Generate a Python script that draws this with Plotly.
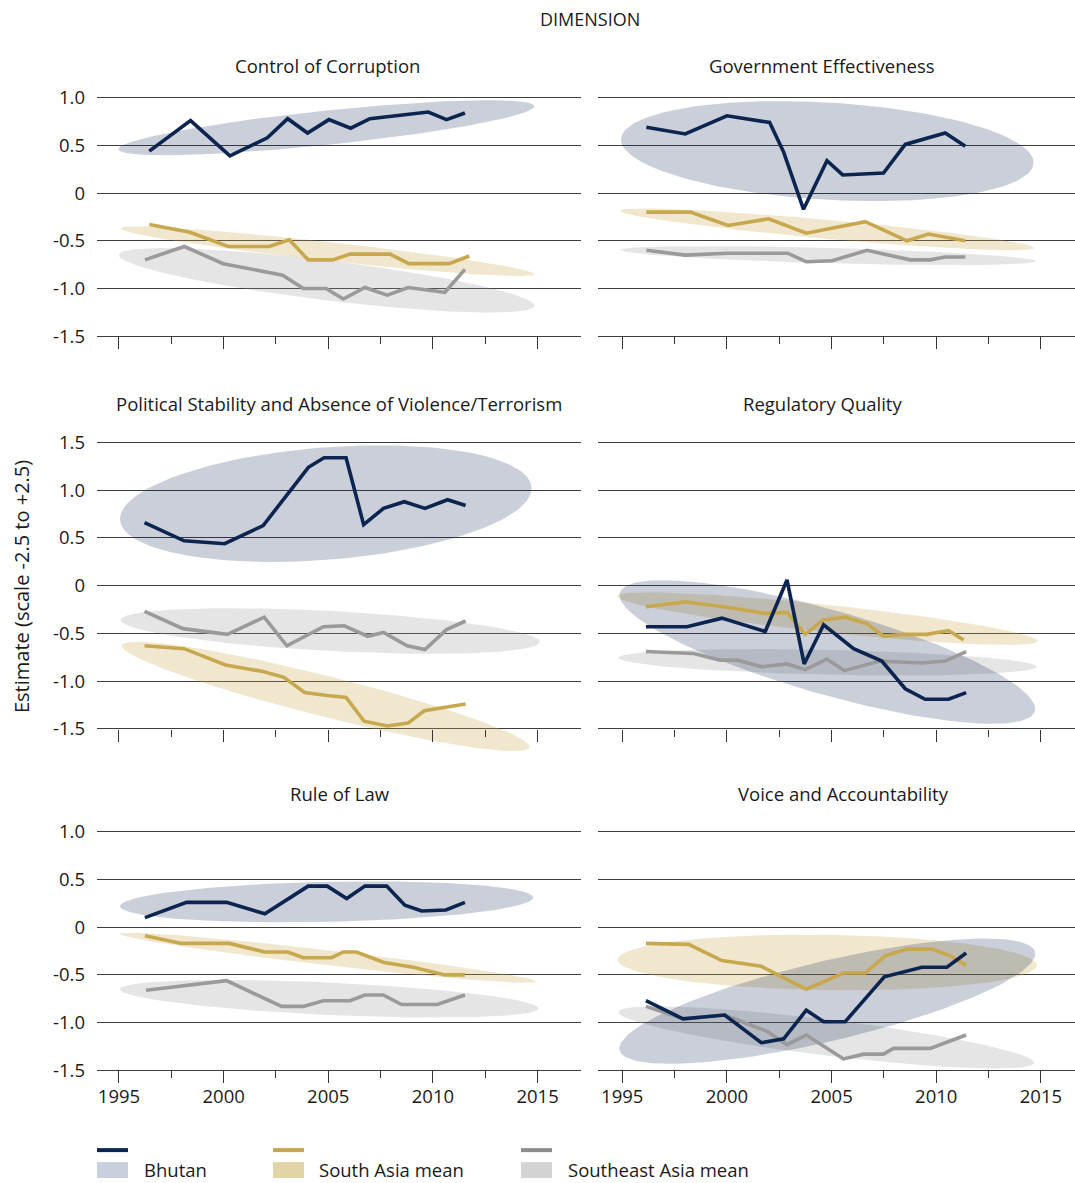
import numpy as np
import plotly.graph_objects as go

# ---------------- data ----------------
# Control of Corruption
CC_BHU_X = [1996.45, 1998.42, 2000.3, 2002.09, 2003.06, 2004.01, 2005.03, 2006.07, 2006.99, 2009.78, 2010.65, 2011.53]
CC_BHU_Y = [0.44, 0.76, 0.39, 0.58, 0.78, 0.63, 0.77, 0.68, 0.78, 0.85, 0.77, 0.84]
CC_SAM_X = [1996.45, 1998.39, 2000.22, 2002.18, 2003.14, 2004.04, 2005.21, 2006.04, 2007.95, 2008.85, 2010.78, 2011.74]
CC_SAM_Y = [-0.33, -0.41, -0.56, -0.56, -0.49, -0.70, -0.70, -0.64, -0.64, -0.74, -0.74, -0.66]
CC_SEA_X = [1996.24, 1998.12, 1999.98, 2002.82, 2003.81, 2004.89, 2005.72, 2006.75, 2007.82, 2008.82, 2010.57, 2011.53]
CC_SEA_Y = [-0.70, -0.56, -0.74, -0.86, -1.00, -1.00, -1.11, -0.99, -1.07, -0.99, -1.04, -0.80]

# Government Effectiveness
GE_BHU_X = [1996.15, 1998.01, 2000.0, 2002.04, 2002.71, 2003.66, 2004.78, 2005.53, 2007.48, 2008.52, 2010.43, 2011.39]
GE_BHU_Y = [0.69, 0.62, 0.81, 0.74, 0.43, -0.17, 0.34, 0.19, 0.21, 0.51, 0.63, 0.49]
GE_SAM_X = [1996.15, 1998.25, 2000.05, 2001.99, 2003.79, 2006.61, 2008.6, 2009.63, 2011.39]
GE_SAM_Y = [-0.20, -0.20, -0.34, -0.27, -0.42, -0.30, -0.50, -0.43, -0.50]
GE_SEA_X = [1996.15, 1998.01, 2000.0, 2002.9, 2003.79, 2005.02, 2006.69, 2008.76, 2009.71, 2010.43, 2011.39]
GE_SEA_Y = [-0.60, -0.65, -0.63, -0.63, -0.72, -0.71, -0.60, -0.70, -0.70, -0.67, -0.67]

# Political Stability and Absence of Violence/Terrorism
PS_BHU_X = [1996.22, 1998.11, 2000.05, 2001.89, 2004.05, 2004.8, 2005.85, 2006.69, 2007.64, 2008.63, 2009.62, 2010.7, 2011.56]
PS_BHU_Y = [0.66, 0.47, 0.44, 0.63, 1.24, 1.34, 1.34, 0.64, 0.81, 0.88, 0.81, 0.90, 0.84]
PS_SAM_X = [1996.22, 1998.11, 2000.09, 2001.89, 2002.88, 2003.87, 2004.95, 2005.85, 2006.71, 2007.82, 2008.81, 2009.59, 2011.56]
PS_SAM_Y = [-0.63, -0.66, -0.83, -0.90, -0.96, -1.12, -1.15, -1.17, -1.42, -1.47, -1.44, -1.31, -1.24]
PS_SEA_X = [1996.22, 1998.06, 2000.18, 2001.94, 2003.02, 2003.78, 2004.77, 2005.76, 2006.89, 2007.64, 2008.77, 2009.62, 2010.65, 2011.56]
PS_SEA_Y = [-0.27, -0.45, -0.51, -0.33, -0.63, -0.54, -0.43, -0.42, -0.53, -0.49, -0.63, -0.67, -0.46, -0.37]

# Regulatory Quality
RQ_BHU_X = [1996.13, 1998.09, 1999.76, 2001.83, 2002.87, 2003.69, 2004.62, 2006.05, 2007.4, 2008.52, 2009.47, 2010.59, 2011.43]
RQ_BHU_Y = [-0.43, -0.43, -0.34, -0.48, 0.06, -0.82, -0.41, -0.66, -0.79, -1.08, -1.19, -1.19, -1.12]
RQ_SAM_X = [1996.13, 1998.01, 1999.84, 2001.83, 2002.87, 2003.74, 2004.59, 2005.65, 2006.69, 2007.48, 2008.44, 2009.55, 2010.59, 2011.31]
RQ_SAM_Y = [-0.22, -0.17, -0.22, -0.29, -0.28, -0.51, -0.36, -0.33, -0.40, -0.53, -0.51, -0.51, -0.47, -0.57]
RQ_SEA_X = [1996.13, 1998.41, 1999.68, 2000.48, 2001.67, 2002.87, 2003.74, 2004.78, 2005.61, 2007.32, 2009.32, 2010.43, 2011.43]
RQ_SEA_Y = [-0.69, -0.71, -0.78, -0.78, -0.85, -0.82, -0.88, -0.77, -0.89, -0.79, -0.81, -0.79, -0.69]

# Rule of Law
RL_BHU_X = [1996.24, 1998.23, 2000.14, 2001.97, 2004.04, 2004.95, 2005.88, 2006.75, 2007.79, 2008.66, 2009.46, 2010.62, 2011.53]
RL_BHU_Y = [0.10, 0.26, 0.26, 0.14, 0.43, 0.43, 0.30, 0.43, 0.43, 0.23, 0.17, 0.18, 0.26]
RL_SAM_X = [1996.24, 1997.99, 2000.27, 2001.97, 2003.06, 2003.81, 2005.16, 2005.72, 2006.35, 2007.66, 2009.06, 2010.57, 2011.53]
RL_SAM_Y = [-0.09, -0.17, -0.17, -0.26, -0.26, -0.32, -0.32, -0.26, -0.26, -0.37, -0.42, -0.50, -0.50]
RL_SEA_X = [1996.29, 2000.14, 2002.77, 2003.81, 2004.76, 2006.04, 2006.75, 2007.63, 2008.5, 2010.21, 2011.53]
RL_SEA_Y = [-0.66, -0.56, -0.83, -0.83, -0.77, -0.77, -0.71, -0.71, -0.81, -0.81, -0.71]

# Voice and Accountability
VA_BHU_X = [1996.13, 1997.9, 1999.89, 2001.64, 2002.71, 2003.79, 2004.62, 2005.65, 2007.52, 2009.32, 2010.51, 2011.43]
VA_BHU_Y = [-0.77, -0.96, -0.92, -1.21, -1.17, -0.87, -0.99, -0.99, -0.52, -0.42, -0.42, -0.27]
VA_SAM_X = [1996.13, 1998.17, 1999.76, 2001.64, 2003.79, 2005.57, 2006.61, 2007.56, 2008.6, 2009.79, 2010.67, 2011.43]
VA_SAM_Y = [-0.17, -0.18, -0.35, -0.41, -0.65, -0.48, -0.48, -0.30, -0.23, -0.23, -0.30, -0.40]
VA_SEA_X = [1996.13, 1997.93, 1999.89, 2001.91, 2002.87, 2003.79, 2005.57, 2006.53, 2007.48, 2007.96, 2009.71, 2011.43]
VA_SEA_Y = [-0.83, -0.96, -0.92, -1.09, -1.23, -1.13, -1.38, -1.33, -1.33, -1.27, -1.27, -1.13]

# Confidence ellipses: [year at left end, value at left end, year at right end, value at right end, vertical half-width]
CC_BHU_ELL = [1994.97, 0.46, 2014.84, 0.91, 0.18]
CC_SAM_ELL = [1995.08, -0.37, 2014.84, -0.85, 0.10]
CC_SEA_ELL = [1995.00, -0.65, 2014.84, -1.18, 0.21]
GE_BHU_ELL = [1994.94, 0.56, 2014.65, 0.32, 0.51]
GE_SAM_ELL = [1994.90, -0.185, 2014.68, -0.575, 0.10]
GE_SEA_ELL = [1994.90, -0.595, 2014.78, -0.715, 0.08]
PS_BHU_ELL = [1995.05, 0.70, 2014.71, 1.02, 0.59]
PS_SAM_ELL = [1995.14, -0.63, 2014.62, -1.69, 0.22]
PS_SEA_ELL = [1995.09, -0.36, 2015.10, -0.59, 0.21]
RQ_BHU_ELL = [1994.87, -0.10, 2014.73, -1.29, 0.46]
RQ_SAM_ELL = [1994.75, -0.11, 2014.84, -0.58, 0.145]
RQ_SEA_ELL = [1994.82, -0.755, 2014.80, -0.85, 0.13]
RL_BHU_ELL = [1995.05, 0.22, 2014.79, 0.31, 0.21]
RL_SAM_ELL = [1995.05, -0.07, 2014.92, -0.57, 0.08]
RL_SEA_ELL = [1995.05, -0.65, 2015.03, -0.85, 0.17]
VA_BHU_ELL = [1994.86, -1.27, 2014.73, -0.28, 0.43]
VA_SAM_ELL = [1994.78, -0.34, 2014.80, -0.40, 0.29]
VA_SEA_ELL = [1994.82, -0.89, 2014.68, -1.42, 0.19]

PANEL_TITLES = ["Control of Corruption", "Government Effectiveness",
                "Political Stability and Absence of Violence/Terrorism", "Regulatory Quality",
                "Rule of Law", "Voice and Accountability"]
SERIES_NAMES = ["Bhutan", "South Asia mean", "Southeast Asia mean"]
X_TICKS = [1995, 2000, 2005, 2010, 2015]
X_MINOR_TICKS = [1997.5, 2002.5, 2007.5, 2012.5]
Y_TICKS_SHORT = [-1.5, -1.0, -0.5, 0, 0.5, 1.0]
Y_TEXT_SHORT = ["-1.5", "-1.0", "-0.5", "0", "0.5", "1.0"]
Y_TICKS_TALL = [-1.5, -1.0, -0.5, 0, 0.5, 1.0, 1.5]
Y_TEXT_TALL = ["-1.5", "-1.0", "-0.5", "0", "0.5", "1.0", "1.5"]

PANELS = [
    (CC_BHU_X, CC_BHU_Y, CC_SAM_X, CC_SAM_Y, CC_SEA_X, CC_SEA_Y, CC_BHU_ELL, CC_SAM_ELL, CC_SEA_ELL),
    (GE_BHU_X, GE_BHU_Y, GE_SAM_X, GE_SAM_Y, GE_SEA_X, GE_SEA_Y, GE_BHU_ELL, GE_SAM_ELL, GE_SEA_ELL),
    (PS_BHU_X, PS_BHU_Y, PS_SAM_X, PS_SAM_Y, PS_SEA_X, PS_SEA_Y, PS_BHU_ELL, PS_SAM_ELL, PS_SEA_ELL),
    (RQ_BHU_X, RQ_BHU_Y, RQ_SAM_X, RQ_SAM_Y, RQ_SEA_X, RQ_SEA_Y, RQ_BHU_ELL, RQ_SAM_ELL, RQ_SEA_ELL),
    (RL_BHU_X, RL_BHU_Y, RL_SAM_X, RL_SAM_Y, RL_SEA_X, RL_SEA_Y, RL_BHU_ELL, RL_SAM_ELL, RL_SEA_ELL),
    (VA_BHU_X, VA_BHU_Y, VA_SAM_X, VA_SAM_Y, VA_SEA_X, VA_SEA_Y, VA_BHU_ELL, VA_SAM_ELL, VA_SEA_ELL),
]

# ---------------- styling / layout ----------------
W, H = 1075, 1183
FONT = "'Open Sans', 'Noto Sans', sans-serif"
FS = 18.5
TXT = "#1a1a1a"
LINE_COLORS = ["#0c2550", "#c8a84e", "#9a9a9a"]
FILL_COLORS = ["rgba(12,37,80,0.22)", "rgba(200,168,78,0.28)", "rgba(150,150,150,0.25)"]
LEGEND_RECTS = ["#c9cfdc", "#e3d4a8", "#d3d3d3"]
LEGEND_LINES = ["#0c2550", "#c4a64e", "#8c8c8c"]
GRID = "#3c3c3c"
PX_PER_YEAR = 20.93
COLS = [(97.0, 581.0, 1993.95), (598.0, 1075.0, 1993.84)]       # px left, px right, first year
ROWS = [(94.0, 1.0, 333.3), (440.0, 1.5, 727.3), (830.5, 1.0, 1070.0)]  # px of top line, top value, px of -1.5 line
Y_LO_EXT, Y_HI_EXT = 0.30, 0.10
TITLE_POS = [(327, 62), (822, 62), (339, 401), (822, 401), (340, 792), (843, 792)]


def ellipse(p, n=160):
    x1, y1, x2, y2, h = p
    t = np.linspace(0, 2 * np.pi, n)
    cx, cy = (x1 + x2) / 2, (y1 + y2) / 2
    ax, ay = (x2 - x1) / 2, (y2 - y1) / 2
    return cx + ax * np.cos(t), cy + ay * np.cos(t) + h * np.sin(t)


fig = go.Figure()
layout = dict(
    width=W, height=H, margin=dict(l=0, r=0, t=0, b=0),
    paper_bgcolor="white", plot_bgcolor="rgba(0,0,0,0)",
    showlegend=False, font=dict(family=FONT, size=FS, color=TXT),
)
annotations = []
shapes = []

for i, panel in enumerate(PANELS):
    n = i + 1
    col, row = i % 2, i // 2
    xs = [panel[0], panel[2], panel[4]]
    ys = [panel[1], panel[3], panel[5]]
    ells = [panel[6], panel[7], panel[8]]
    xa, ya = f"x{n}", f"y{n}"
    for k in [2, 1, 0]:
        ex, ey = ellipse(ells[k])
        fig.add_trace(go.Scatter(x=ex, y=ey, mode="lines", fill="toself",
                                 fillcolor=FILL_COLORS[k], line=dict(width=0, color="rgba(0,0,0,0)"),
                                 hoverinfo="skip", xaxis=xa, yaxis=ya))
    for k in [2, 1, 0]:
        fig.add_trace(go.Scatter(x=xs[k], y=ys[k], mode="lines", name=SERIES_NAMES[k],
                                 line=dict(color=LINE_COLORS[k], width=3.6),
                                 xaxis=xa, yaxis=ya))

    px0, px1, yr0 = COLS[col]
    pytop, topval, pybot = ROWS[row]
    kpx = (pybot - pytop) / (topval + 1.5)
    dom_top = pytop - Y_HI_EXT * kpx
    dom_bot = pybot + Y_LO_EXT * kpx
    suffix = "" if n == 1 else str(n)
    layout["xaxis" + suffix] = dict(
        domain=[px0 / W, px1 / W],
        range=[yr0, yr0 + (px1 - px0) / PX_PER_YEAR],
        anchor="free", position=1 - pybot / H,
        showgrid=False, zeroline=False, showline=False,
        tickmode="array", tickvals=X_TICKS, ticktext=[str(v) for v in X_TICKS],
        showticklabels=(row == 2), ticklabelstandoff=-3,
        ticks="outside", ticklen=12, tickwidth=1.2, tickcolor="#333333",
        minor=dict(ticks="outside", ticklen=7, tickwidth=1.2, tickcolor="#333333",
                   tickmode="array", tickvals=X_MINOR_TICKS),
        tickfont=dict(size=FS, color=TXT, family=FONT),
        fixedrange=True,
    )
    tv = Y_TICKS_TALL if topval > 1.2 else Y_TICKS_SHORT
    tt = Y_TEXT_TALL if topval > 1.2 else Y_TEXT_SHORT
    layout["yaxis" + suffix] = dict(
        domain=[1 - dom_bot / H, 1 - dom_top / H],
        range=[-1.5 - Y_LO_EXT, topval + Y_HI_EXT],
        anchor=xa, showgrid=True, gridcolor=GRID, gridwidth=1,
        zeroline=False, showline=False,
        tickmode="array", tickvals=tv, ticktext=tt,
        showticklabels=(col == 0), ticks="", ticklabelstandoff=11,
        tickfont=dict(size=FS, color=TXT, family=FONT),
        fixedrange=True,
    )
    tx, ty = TITLE_POS[i]
    annotations.append(dict(text=PANEL_TITLES[i], x=tx / W, y=1 - ty / H, xref="paper", yref="paper",
                            xanchor="center", yanchor="middle", showarrow=False,
                            font=dict(size=FS, color=TXT, family=FONT)))

annotations.append(dict(text="DIMENSION", x=590 / W, y=1 - 15 / H, xref="paper", yref="paper",
                        xanchor="center", yanchor="middle", showarrow=False,
                        font=dict(size=18, color=TXT, family=FONT)))
annotations.append(dict(text="Estimate (scale -2.5 to +2.5)", x=21 / W, y=1 - 585 / H,
                        xref="paper", yref="paper", xanchor="center", yanchor="middle",
                        textangle=-90, showarrow=False, font=dict(size=20, color=TXT, family=FONT)))

# legend (drawn manually: line swatch above a filled swatch, label beside)
LEG_X = [(97, 128, 142), (273, 304, 317), (521, 552, 566)]
for k, (s0, s1, tx) in enumerate(LEG_X):
    shapes.append(dict(type="line", xref="paper", yref="paper", x0=s0 / W, x1=s1 / W,
                       y0=1 - 1150 / H, y1=1 - 1150 / H, line=dict(color=LEGEND_LINES[k], width=4)))
    shapes.append(dict(type="rect", xref="paper", yref="paper", x0=s0 / W, x1=s1 / W,
                       y0=1 - 1178 / H, y1=1 - 1162 / H, line=dict(width=0), fillcolor=LEGEND_RECTS[k]))
    annotations.append(dict(text=SERIES_NAMES[k], x=tx / W, y=1 - 1169 / H, xref="paper", yref="paper",
                            xanchor="left", yanchor="middle", showarrow=False,
                            font=dict(size=FS, color=TXT, family=FONT)))

layout["annotations"] = annotations
layout["shapes"] = shapes
fig.update_layout(**layout)
fig.write_html("out.html", config={"displayModeBar": False},
               post_script="document.body.style.margin='0px';document.body.style.overflow='hidden';")
